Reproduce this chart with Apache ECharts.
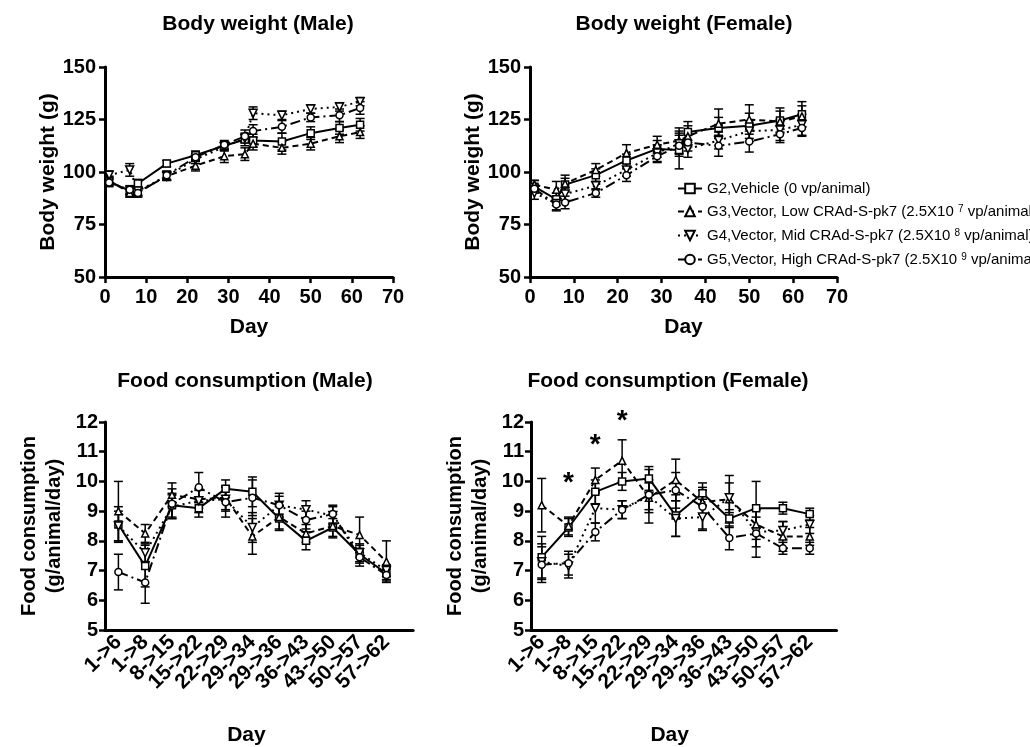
<!DOCTYPE html>
<html>
<head>
<meta charset="utf-8">
<script src="https://cdn.jsdelivr.net/npm/echarts@6/dist/echarts.min.js"></script>
<style>html,body{margin:0;padding:0;background:#fff}#c{width:1030px;height:747px}</style>
</head>
<body>
<div id="c"></div>
<script>
// ---------------- DATA ----------------
const groups = ['G2', 'G3', 'G4', 'G5'];
const legendLabels = [
  'G2,Vehicle (0 vp/animal)',
  'G3,Vector, Low CRAd-S-pk7 (2.5X10 {sup|7} vp/animal)',
  'G4,Vector, Mid CRAd-S-pk7 (2.5X10 {sup|8} vp/animal)',
  'G5,Vector, High CRAd-S-pk7 (2.5X10 {sup|9} vp/animal'
];
const bwDays = [1, 6, 8, 15, 22, 29, 34, 36, 43, 50, 57, 62];

const bwMaleG2 = [95.5, 91, 94.5, 104, 108, 112.5, 115.5, 115, 114.5, 118.5, 121, 122.5];
const bwMaleG3 = [96, 90, 90.5, 98, 103, 107.5, 108.5, 113.5, 111.5, 113.5, 117, 119];
const bwMaleG4 = [98.5, 101, 91, 98, 106, 112, 116, 128, 127, 130, 131, 133.5];
const bwMaleG5 = [95, 91.5, 90, 98.5, 107, 113, 117, 119.5, 121.5, 126, 127, 130.5];
const bwMaleG2Err = [2, 2, 2, 1.5, 2, 2, 3, 3, 4, 3, 3, 3];
const bwMaleG3Err = [2, 2, 2, 2, 2.5, 3, 3, 3, 3, 3, 3, 3];
const bwMaleG4Err = [2, 3, 2, 2, 2, 2, 2, 3, 2, 2, 2, 2];
const bwMaleG5Err = [2, 2, 2, 2, 2, 2, 3, 3, 3, 2, 3, 3];

const bwFemaleG2 = [93, 87, 94, 98.5, 105.5, 111, 110.5, 119, 121, 122, 124.5, 127.5];
const bwFemaleG3 = [94, 91.5, 94.5, 101, 109, 113, 115, 117, 123, 125, 124, 126.5];
const bwFemaleG4 = [90, 85, 89.5, 93.5, 101, 109, 113.5, 111, 115, 119.5, 120, 122.5];
const bwFemaleG5 = [92, 84.5, 85.5, 90, 98.5, 107.5, 112.5, 114, 112.5, 114.5, 118, 121];
const bwFemaleG2Err = [3, 3, 3, 3, 3, 4, 9, 5, 5, 6, 6, 6];
const bwFemaleG3Err = [2, 4, 4, 3, 4, 4, 6, 5, 7, 7, 5, 5];
const bwFemaleG4Err = [3, 3, 3, 2, 3, 4, 5, 4, 4, 5, 5, 5];
const bwFemaleG5Err = [2, 3, 3, 2, 3, 3, 5, 4, 5, 5, 4, 4];

const foodCats = ['1->6', '1->8', '8->15', '15->22', '22->29', '29->34', '29->36', '36->43', '43->50', '50->57', '57->62'];

const foodMaleG2 = [8.55, 7.15, 9.2, 9.1, 9.75, 9.65, 8.75, 8.0, 8.45, 7.55, 6.9];
const foodMaleG3 = [9.0, 8.25, 9.55, 9.4, 9.45, 8.15, 8.8, 8.25, 8.5, 8.2, 7.3];
const foodMaleG4 = [8.5, 7.6, 9.15, 9.35, 9.4, 8.45, 9.2, 9.05, 8.85, 7.6, 7.0];
const foodMaleG5 = [6.95, 6.6, 9.25, 9.8, 9.3, 9.45, 9.2, 8.7, 8.9, 7.45, 6.85];
const foodMaleG2Err = [0.6, 0.7, 0.4, 0.3, 0.3, 0.5, 0.4, 0.3, 0.3, 0.3, 0.2];
const foodMaleG3Err = [1.0, 0.3, 0.4, 0.3, 0.4, 0.6, 0.4, 0.3, 0.4, 0.6, 0.7];
const foodMaleG4Err = [0.5, 0.3, 0.4, 0.4, 0.4, 0.5, 0.3, 0.3, 0.3, 0.3, 0.2];
const foodMaleG5Err = [0.6, 0.7, 0.5, 0.5, 0.5, 0.6, 0.4, 0.3, 0.3, 0.3, 0.2];

const foodFemaleG2 = [7.45, 8.45, 9.65, 10.0, 10.1, 8.85, 9.6, 8.75, 9.1, 9.1, 8.9];
const foodFemaleG3 = [9.2, 8.5, 10.05, 10.7, 9.45, 10.05, 9.3, 9.4, 8.55, 8.15, 8.15];
const foodFemaleG4 = [7.3, 7.15, 9.1, 9.05, 9.5, 8.75, 8.8, 9.45, 8.3, 8.35, 8.55];
const foodFemaleG5 = [7.2, 7.25, 8.3, 9.05, 9.55, 9.7, 9.15, 8.1, 8.25, 7.75, 7.75];
const foodFemaleG2Err = [0.7, 0.3, 0.4, 0.3, 0.4, 0.7, 0.2, 0.3, 0.9, 0.2, 0.2];
const foodFemaleG3Err = [0.9, 0.3, 0.4, 0.7, 0.5, 0.7, 0.4, 0.8, 0.5, 0.5, 0.3];
const foodFemaleG4Err = [0.6, 0.4, 0.5, 0.3, 0.9, 0.6, 0.4, 0.5, 0.5, 0.3, 0.3];
const foodFemaleG5Err = [0.6, 0.4, 0.3, 0.3, 0.5, 0.6, 0.8, 0.4, 0.8, 0.2, 0.2];

// significance markers (category position, y value)
const starCats = [2, 3, 4];
const starVals = [9.95, 11.2, 12.03];

// ---------------- STYLE ----------------
const FONT = 'Liberation Sans';
const symbols = ['rect', 'triangle', 'path://M0,0L10,0L5,9Z', 'circle'];
const dashes = ['solid', [6, 4], [2, 4], [10, 4, 2, 4]];

const foodX = foodCats.map((c, i) => i + 1);
const panels = [
  { x: bwDays, vals: [bwMaleG2, bwMaleG3, bwMaleG4, bwMaleG5], errs: [bwMaleG2Err, bwMaleG3Err, bwMaleG4Err, bwMaleG5Err] },
  { x: bwDays, vals: [bwFemaleG2, bwFemaleG3, bwFemaleG4, bwFemaleG5], errs: [bwFemaleG2Err, bwFemaleG3Err, bwFemaleG4Err, bwFemaleG5Err] },
  { x: foodX, vals: [foodMaleG2, foodMaleG3, foodMaleG4, foodMaleG5], errs: [foodMaleG2Err, foodMaleG3Err, foodMaleG4Err, foodMaleG5Err] },
  { x: foodX, vals: [foodFemaleG2, foodFemaleG3, foodFemaleG4, foodFemaleG5], errs: [foodFemaleG2Err, foodFemaleG3Err, foodFemaleG4Err, foodFemaleG5Err] }
];

const BAND = 26.8;
const grids = [
  { left: 105, top: 67, width: 288, height: 210 },
  { left: 530, top: 67, width: 307, height: 210 },
  { left: 105, top: 422, width: 11.5 * BAND, height: 208 },
  { left: 531, top: 422, width: 11.4 * BAND, height: 208 },
  // label-only grids for the food category axes (one band per period)
  { left: 105, top: 422, width: 11 * BAND, height: 208 },
  { left: 531 + 0.4 * BAND - 0.5 * BAND, top: 422, width: 11 * BAND, height: 208 }
];

const axisLine = { lineStyle: { color: '#000', width: 3 } };
const axisTick = { length: 6, lineStyle: { color: '#000', width: 2.5 } };
const lbl = { color: '#000', fontWeight: 'bold', fontSize: 20, fontFamily: FONT };
const nameStyle = { color: '#000', fontWeight: 'bold', fontSize: 21, fontFamily: FONT };

const xAxes = [0, 1].map(i => ({
  type: 'value', gridIndex: i, min: 0, max: 70, interval: 10,
  axisLine, axisTick, splitLine: { show: false },
  axisLabel: Object.assign({ margin: 10 }, lbl),
  name: 'Day', nameLocation: 'middle', nameGap: 40, nameTextStyle: nameStyle
})).concat([2, 3].map(i => ({
  type: 'value', gridIndex: i, min: i === 2 ? 0.5 : 0.6, max: 12,
  axisLine, splitLine: { show: false },
  axisTick: { show: false }, axisLabel: { show: false }
}))).concat([4, 5].map(i => ({
  type: 'category', gridIndex: i, data: foodCats, boundaryGap: true,
  axisLine: { show: false }, splitLine: { show: false },
  axisTick: Object.assign({ alignWithLabel: true, interval: 0 }, axisTick),
  axisLabel: Object.assign({ interval: 0, rotate: 45, margin: 9 }, lbl, { fontSize: 21 }),
  name: 'Day', nameLocation: 'middle', nameGap: 95,
  nameTextStyle: Object.assign({ padding: [0, 12, 0, 0] }, nameStyle)
})));

const yAxes = [0, 1].map(i => ({
  type: 'value', gridIndex: i, min: 50, max: 150, interval: 25,
  axisLine: Object.assign({ show: true }, axisLine), axisTick, splitLine: { show: false },
  axisLabel: Object.assign({ margin: 9 }, lbl),
  name: 'Body weight (g)', nameLocation: 'middle', nameGap: 46, nameTextStyle: nameStyle
})).concat([2, 3].map(i => ({
  type: 'value', gridIndex: i, min: 5, max: 12, interval: 1,
  axisLine: Object.assign({ show: true }, axisLine), axisTick, splitLine: { show: false },
  axisLabel: Object.assign({ margin: 7 }, lbl),
  name: 'Food consumption\n(g/animal/day)', nameLocation: 'middle', nameGap: 38,
  nameTextStyle: Object.assign({ lineHeight: 25 }, nameStyle, { fontSize: 20 })
}))).concat([4, 5].map(i => ({ type: 'value', gridIndex: i, show: false })));

function errRender(params, api) {
  const x = api.value(0), lo = api.value(1), hi = api.value(2);
  const a = api.coord([x, hi]), b = api.coord([x, lo]);
  const w = 4.5, st = { stroke: '#000', lineWidth: 1.5 };
  return {
    type: 'group', children: [
      { type: 'line', shape: { x1: a[0], y1: a[1], x2: b[0], y2: b[1] }, style: st },
      { type: 'line', shape: { x1: a[0] - w, y1: a[1], x2: a[0] + w, y2: a[1] }, style: st },
      { type: 'line', shape: { x1: b[0] - w, y1: b[1], x2: b[0] + w, y2: b[1] }, style: st }
    ]
  };
}

function starRender(params, api) {
  const p = api.coord([api.value(0), api.value(1)]);
  return {
    type: 'text', x: p[0], y: p[1],
    style: { text: '*', fill: '#000', font: 'bold 28px ' + FONT, align: 'center', verticalAlign: 'middle' }
  };
}

const series = [];
panels.forEach((p, pi) => {
  groups.forEach((g, gi) => {
    series.push({
      type: 'custom', name: g + ' SEM', xAxisIndex: pi, yAxisIndex: pi, silent: true, z: 2,
      renderItem: errRender,
      data: p.x.map((x, k) => [x, p.vals[gi][k] - p.errs[gi][k], p.vals[gi][k] + p.errs[gi][k]])
    });
  });
  groups.forEach((g, gi) => {
    series.push({
      type: 'line', name: g, xAxisIndex: pi, yAxisIndex: pi, z: 3,
      data: p.x.map((x, k) => [x, p.vals[gi][k]]),
      symbol: symbols[gi], symbolSize: gi === 2 ? 8 : 7, showSymbol: true,
      itemStyle: { color: '#fff', borderColor: '#000', borderWidth: 1.5 },
      lineStyle: { color: '#000', width: 2, type: dashes[gi] },
      emphasis: { disabled: true }, animation: false
    });
  });
});
series.push({
  type: 'custom', name: 'sig', xAxisIndex: 3, yAxisIndex: 3, silent: true, clip: false, z: 5,
  renderItem: starRender,
  data: starCats.map((c, i) => [c, starVals[i]])
});

const titleStyle = { fontSize: 21, fontWeight: 'bold', fontFamily: FONT, fill: '#000', align: 'center', verticalAlign: 'top' };
const titles = [
  ['Body weight (Male)', 258, 14],
  ['Body weight (Female)', 684, 14],
  ['Food consumption (Male)', 245, 371],
  ['Food consumption (Female)', 668, 371]
];

const chart = echarts.init(document.getElementById('c'), null, { renderer: 'canvas' });
chart.setOption({
  animation: false,
  backgroundColor: '#fff',
  grid: grids,
  xAxis: xAxes,
  yAxis: yAxes,
  legend: {
    data: groups, orient: 'vertical', left: 672, top: 176,
    itemWidth: 24, itemHeight: 12, itemGap: 8,
    formatter: name => legendLabels[groups.indexOf(name)],
    textStyle: { fontSize: 15, fontFamily: FONT, color: '#000', rich: { sup: { fontSize: 10, verticalAlign: 'top', lineHeight: 10, padding: [0, 0, 6, 0] } } }
  },
  graphic: titles.map(t => ({ type: 'text', x: t[1], y: t[2], style: Object.assign({ text: t[0] }, titleStyle) })),
  series
});
</script>
</body>
</html>
